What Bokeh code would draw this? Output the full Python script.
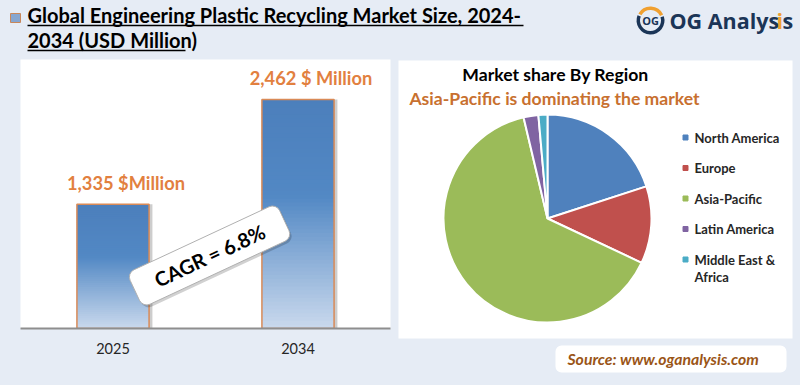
import numpy as np
from bokeh.plotting import figure
from bokeh.layouts import column, row
from bokeh.models import Range1d, FactorRange, ColumnDataSource
from bokeh.core.properties import value
from bokeh.transform import dodge
from bokeh.embed import file_html
from bokeh.resources import INLINE

# ---------------- data ----------------
years = ["2025", "2034"]
market_size = [1335, 2462]
bar_labels = ["1,335 $Million", "2,462 $ Million"]
cagr_text = "CAGR = 6.8%"

regions = ["North America", "Europe", "Asia-Pacific", "Latin America", "Middle East &\nAfrica"]
shares = [20.0, 12.0, 64.3, 2.3, 1.4]
region_colors = ["#4F81BD", "#C0504D", "#9BBB59", "#8064A2", "#4BACC6"]

title_lines = ["Global Engineering Plastic Recycling Market Size, 2024-", "2034 (USD Million)"]
pie_title = "Market share By Region"
pie_subtitle = "Asia-Pacific is dominating the market"
source_text = "Source: www.oganalysis.com"
logo_parts = ["OG Analys", "i", "s"]

BG = "#E6ECF5"
FONT = "Lato"
NAVY = "#1B3557"
ORANGE = "#E2803F"
LOGO_ORANGE = "#F0A030"


def base_fig(**kw):
    f = figure(output_backend="svg", toolbar_location=None, frame_align=False, **kw)
    f.grid.visible = False
    f.outline_line_color = None
    f.border_fill_color = BG
    f.styles = {"background-color": BG}
    return f


# ---------------- header (800 x 58) ----------------
h = base_fig(width=800, height=58, x_range=Range1d(0, 800), y_range=Range1d(0, 58),
             min_border=0, x_axis_location=None, y_axis_location=None)
h.background_fill_color = BG
h.text(x=[27, 27], y=[44, 19], text=title_lines, text_font=value(FONT), text_font_style="bold",
       text_font_size="20px", text_baseline="middle", text_color="#000000")
h.segment(x0=[27, 27], y0=[33, 8], x1=[523, 185], y1=[33, 8], line_color="#000000", line_width=1.6)
# small icon
h.rect(x=[15], y=[40.5], width=10, height=9, fill_color="#86A6D0", line_color="#C8875A", line_width=1)
# logo
h.annular_wedge(x=650, y=38, inner_radius=10.5, outer_radius=14, inner_radius_units="screen",
                outer_radius_units="screen", start_angle=np.radians(25), end_angle=np.radians(150),
                fill_color=LOGO_ORANGE, line_color=None)
h.annular_wedge(x=650, y=38, inner_radius=10.5, outer_radius=14, inner_radius_units="screen",
                outer_radius_units="screen", start_angle=np.radians(158), end_angle=np.radians(378),
                fill_color=NAVY, line_color=None)
h.text(x=[650], y=[38], text=["OG"], text_font=value("Open Sans"), text_font_style="bold",
       text_font_size="11px", text_align="center", text_baseline="middle", text_color=NAVY)
h.text(x=[669, 776, 782], y=[38] * 3, text=logo_parts, text_font=value("Open Sans"),
       text_font_style="bold", text_font_size="21.5px", text_baseline="middle",
       text_color=[NAVY, LOGO_ORANGE, NAVY])

# ---------------- bar chart (394 x 327) ----------------
b = base_fig(width=394, height=327, x_range=FactorRange(*years), y_range=Range1d(0, 2892),
             y_axis_location=None, min_border_left=20, min_border_right=4, min_border_top=1,
             min_border_bottom=57)
b.background_fill_color = "white"

BW = 0.39
src = ColumnDataSource(dict(x=years, top=market_size, label=bar_labels))
b.vbar(x=dodge("x", 0.018, range=b.x_range), top="top", width=BW, source=src,
       fill_color="#707070", fill_alpha=0.35, line_color=None)


def grad(t):
    top = np.array([76, 127, 188])
    mid = np.array([82, 136, 196])
    bot = np.array([202, 217, 237])
    if t < 0.42:
        c = top + (mid - top) * (t / 0.42)
    else:
        c = mid + (bot - mid) * ((t - 0.42) / 0.58)
    return "#%02x%02x%02x" % tuple(int(round(v)) for v in c)


N = 60
gx, gb, gt, gc = [], [], [], []
for yr, v in zip(years, market_size):
    for k in range(N):
        gx.append(yr)
        gb.append(v * k / N)
        gt.append(min(v, v * (k + 1.4) / N))
        gc.append(grad(1 - (k + 0.5) / N))
b.vbar(x=gx, bottom=gb, top=gt, width=BW, fill_color=gc, line_color=None)
b.vbar(x="x", top="top", width=BW, source=src, fill_color=None, line_color="#D98A57", line_width=1.5)
b.text(x="x", y="top", text="label", source=src, x_offset=13, y_offset=-21,
       text_font=value(FONT), text_font_style="bold", text_font_size="18.3px",
       text_align="center", text_baseline="middle", text_color=ORANGE)

# CAGR callout
b.rect(x=[1.032], y=[760], width=165, height=38, width_units="screen", height_units="screen",
       angle=25, angle_units="deg", fill_color="#000000", fill_alpha=0.18, line_color=None,
       border_radius=8)
b.rect(x=[1.022], y=[785], width=165, height=38, width_units="screen", height_units="screen",
       angle=25, angle_units="deg", fill_color="white", line_color="#B0B0B0", line_width=1,
       border_radius=8)
b.text(x=[1.022], y=[785], text=[cagr_text], angle=25, angle_units="deg",
       text_font=value(FONT), text_font_style="bold", text_font_size="20px",
       text_align="center", text_baseline="middle", text_color="#000000")

ax = b.xaxis[0]
ax.axis_line_color = "#8E8E8E"
ax.axis_line_width = 2
ax.major_tick_line_color = None
ax.minor_tick_line_color = None
ax.major_label_text_font = FONT
ax.major_label_text_font_size = "14.5px"
ax.major_label_text_color = "#262626"
ax.major_label_standoff = 8

# ---------------- pie chart (406 x 327), frame covers the whole figure ----------------
pf = base_fig(width=406, height=327, x_range=Range1d(0, 406), y_range=Range1d(0, 327),
              min_border=0, x_axis_location=None, y_axis_location=None)
pf.background_fill_color = BG
pf.quad(left=[4], right=[398], bottom=[47], top=[325], fill_color="white", line_color=None)

fr = np.array(shares) / sum(shares)
cum = np.cumsum(fr)
prev = np.concatenate([[0], cum[:-1]])
psrc = ColumnDataSource(dict(start=np.pi / 2 - 2 * np.pi * prev, end=np.pi / 2 - 2 * np.pi * cum,
                             color=region_colors))
pf.wedge(x=153, y=167, radius=104, radius_units="screen", start_angle="start", end_angle="end",
         direction="clock", fill_color="color", line_color="white", line_width=2, source=psrc)

pf.text(x=[161], y=[311], text=[pie_title], text_font=value(FONT), text_font_style="bold",
        text_font_size="17.6px", text_align="center", text_baseline="middle", text_color="#000000")
pf.text(x=[160], y=[287], text=[pie_subtitle], text_font=value(FONT), text_font_style="bold",
        text_font_size="17.6px", text_align="center", text_baseline="middle", text_color="#C8702F")

row_y = [248 - 30.5 * i for i in range(len(regions))]
pf.scatter(x=[291] * len(regions), y=row_y, marker="square", size=5, color=region_colors)
tx, ty, tt = [], [], []
for yy, name in zip(row_y, regions):
    for j, line in enumerate(name.split("\n")):
        tx.append(300)
        ty.append(yy - 17 * j)
        tt.append(line)
pf.text(x=tx, y=ty, text=tt, text_font=value(FONT), text_font_style="bold", text_font_size="13px",
        text_baseline="middle", text_color="#262626")

pf.quad(left=[161], right=[392], bottom=[13], top=[40], fill_color="white", line_color=None,
        border_radius=6)
pf.text(x=[173], y=[27], text=[source_text], text_font=value(FONT), text_font_style="bold italic",
        text_font_size="15.8px", text_baseline="middle", text_color="#9A5517")

mid_row = row(b, pf, spacing=0)
mid_row.styles = {"background-color": BG}
layout = column(h, mid_row, spacing=0)
layout.styles = {"background-color": BG}

open("out.html", "w").write(file_html(layout, INLINE))
